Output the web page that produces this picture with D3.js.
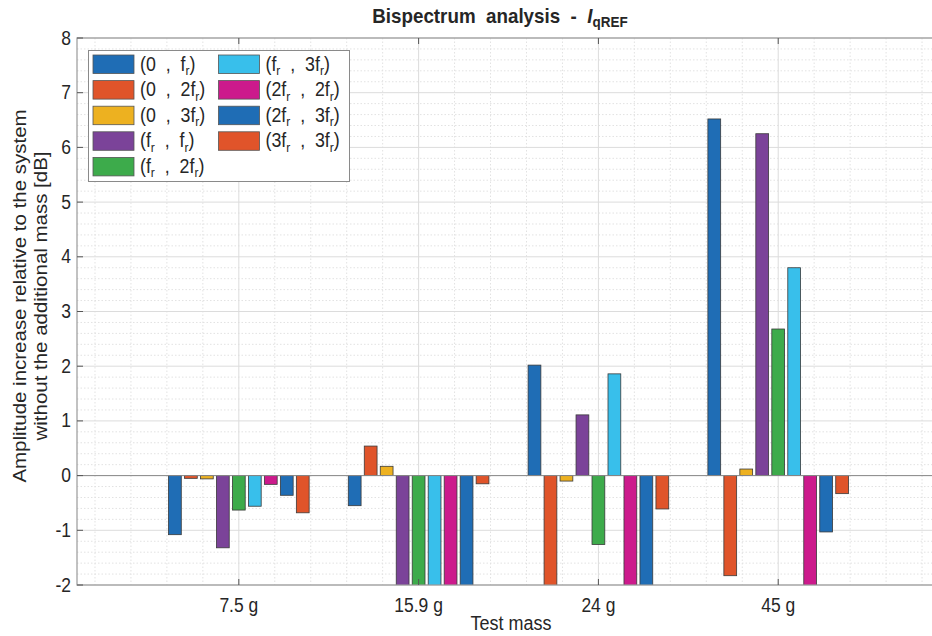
<!DOCTYPE html>
<html>
<head>
<meta charset="utf-8">
<script src="https://cdn.jsdelivr.net/npm/d3@7"></script>
<style>
  body { margin: 0; background: #fff; }
  text { font-family: Arial, "Liberation Sans", Helvetica, sans-serif; fill: #262626; }
</style>
</head>
<body>
<script>
// data
const masses = ["7.5 g", "15.9 g", "24 g", "45 g"];
const pairs = ["(0  ,  f_r)", "(0  ,  2f_r)", "(0  ,  3f_r)", "(f_r  ,  f_r)", "(f_r  ,  2f_r)",
               "(f_r  ,  3f_r)", "(2f_r  ,  2f_r)", "(2f_r  ,  3f_r)", "(3f_r  ,  3f_r)"];
const colors = ["#1f6db5", "#e0542a", "#edb120", "#7b4399", "#3dab4b", "#38bfeb", "#cc1a8c", "#1f6db5", "#e0542a"];
// one array per test mass, in the order of pairs
const vals_7_5 = [-1.08, -0.05, -0.06, -1.32, -0.63, -0.56, -0.16, -0.36, -0.68];
const vals_15_9 = [-0.55, 0.54, 0.17, -2.6, -2.6, -2.6, -2.6, -2.6, -0.15];
const vals_24 = [2.02, -2.6, -0.10, 1.11, -1.26, 1.86, -2.6, -2.6, -0.61];
const vals_45 = [6.52, -1.83, 0.12, 6.25, 2.68, 3.80, -2.6, -1.03, -0.33];
const groups = [vals_7_5, vals_15_9, vals_24, vals_45];
const yTicks = [-2, -1, 0, 1, 2, 3, 4, 5, 6, 7, 8];

const W = 932, H = 636;
const mLeft = 77, mTop = 38, mBottom = 585, mRight = 958;
const SY = 1.12; // text looks a bit stretched vertically in the picture

const svg = d3.select("body").append("svg").attr("width", W).attr("height", H);

const x = d3.scaleLinear().domain([0.1, 5]).range([mLeft, mRight]);
const y = d3.scaleLinear().domain([-2, 8]).range([mBottom, mTop]);

// helper: horizontal text placed at (px, py) with vertical stretch
function label(sel, px, py) {
  return sel.append("text").attr("transform", `translate(${px},${py}) scale(1,${SY})`);
}

const plot = svg.append("g");
svg.append("defs").append("clipPath").attr("id", "clip")
  .append("rect").attr("x", mLeft).attr("y", mTop).attr("width", mRight - mLeft).attr("height", mBottom - mTop);

// minor grid
const minorY = d3.range(-2, 8.001, 0.2).filter(v => Math.abs(v - Math.round(v)) > 1e-6);
plot.selectAll(".my").data(minorY).enter().append("line")
  .attr("x1", mLeft).attr("x2", mRight).attr("y1", d => y(d)).attr("y2", d => y(d))
  .attr("stroke", "#e2e2e2").attr("stroke-dasharray", "1.5,2");
const minorX = d3.range(0.2, 5, 0.2).filter(v => Math.abs(v - Math.round(v)) > 1e-6);
plot.selectAll(".mx").data(minorX).enter().append("line")
  .attr("y1", mTop).attr("y2", mBottom).attr("x1", d => x(d)).attr("x2", d => x(d))
  .attr("stroke", "#e2e2e2").attr("stroke-dasharray", "1.5,2");

// major grid
plot.selectAll(".gy").data(yTicks).enter().append("line")
  .attr("x1", mLeft).attr("x2", mRight).attr("y1", d => y(d)).attr("y2", d => y(d))
  .attr("stroke", "#dcdcdc");
plot.selectAll(".gx").data(masses).enter().append("line")
  .attr("y1", mTop).attr("y2", mBottom).attr("x1", (d, i) => x(i + 1)).attr("x2", (d, i) => x(i + 1))
  .attr("stroke", "#dcdcdc");

// bars
const slot = 0.8 / pairs.length;
const bars = svg.append("g").attr("clip-path", "url(#clip)");
groups.forEach((vals, g) => {
  bars.selectAll(".b" + g).data(vals).enter().append("rect")
    .attr("x", (d, i) => x(g + 1 + (i - 4) * slot - slot * 0.4))
    .attr("width", x(slot * 0.8) - x(0))
    .attr("y", d => y(Math.max(0, d)))
    .attr("height", d => Math.abs(y(d) - y(0)))
    .attr("fill", (d, i) => colors[i])
    .attr("stroke", "#3a3a3a").attr("stroke-width", 0.8);
});

// baseline
svg.append("line").attr("x1", mLeft).attr("x2", mRight).attr("y1", y(0)).attr("y2", y(0))
  .attr("stroke", "#8a8a8a").attr("stroke-width", 1);

// axes box
svg.append("rect").attr("x", mLeft).attr("y", mTop).attr("width", mRight - mLeft).attr("height", mBottom - mTop)
  .attr("fill", "none").attr("stroke", "#9a9a9a").attr("stroke-width", 1.2);

// ticks
svg.selectAll(".yt").data(yTicks).enter().append("line")
  .attr("x1", mLeft).attr("x2", mLeft + 6).attr("y1", d => y(d)).attr("y2", d => y(d))
  .attr("stroke", "#555");
svg.selectAll(".xt").data(masses).enter().append("line")
  .attr("y1", mBottom).attr("y2", mBottom - 6).attr("x1", (d, i) => x(i + 1)).attr("x2", (d, i) => x(i + 1))
  .attr("stroke", "#555");
svg.selectAll(".xt2").data(masses).enter().append("line")
  .attr("y1", mTop).attr("y2", mTop + 6).attr("x1", (d, i) => x(i + 1)).attr("x2", (d, i) => x(i + 1))
  .attr("stroke", "#555");

yTicks.forEach(v => {
  label(svg, mLeft - 6, y(v) + 6.5).attr("text-anchor", "end").attr("font-size", 17.5).text(v);
});
masses.forEach((m, i) => {
  label(svg, x(i + 1), mBottom + 27).attr("text-anchor", "middle").attr("font-size", 17.5).text(m);
});

// axis labels
label(svg, 511, 630).attr("text-anchor", "middle").attr("font-size", 18).text("Test mass");
const yl = svg.append("text")
  .attr("transform", `translate(26,296) rotate(-90) scale(${SY},1)`)
  .attr("text-anchor", "middle").attr("font-size", 18.3);
yl.append("tspan").attr("x", 0).attr("dy", 0).text("Amplitude increase relative to the system");
yl.append("tspan").attr("x", 0).attr("dy", 21.5).text("without the additional mass [dB]");

// title
const t = label(svg, 500, 23).attr("text-anchor", "middle")
  .attr("font-size", 18.8).attr("font-weight", "bold").style("white-space", "pre");
t.append("tspan").text("Bispectrum  analysis  -  ");
t.append("tspan").attr("font-style", "italic").text("I");
t.append("tspan").attr("font-size", 13.5).attr("dy", 4).text("qREF");

// legend
const lg = svg.append("g");
lg.append("rect").attr("x", 88.5).attr("y", 50.5).attr("width", 261).attr("height", 131)
  .attr("fill", "#fff").attr("stroke", "#8a8a8a");
pairs.forEach((p, i) => {
  const col = i < 5 ? 0 : 1, row = i < 5 ? i : i - 5;
  const lx = col === 0 ? 93 : 218.5, ly = 55 + row * 25.6;
  lg.append("rect").attr("x", lx).attr("y", ly).attr("width", 41).attr("height", 18.5)
    .attr("fill", colors[i]).attr("stroke", "#555").attr("stroke-width", 0.8);
  const txt = label(lg, lx + 47, ly + 15.5).attr("font-size", 17.8).style("white-space", "pre");
  const parts = p.split("_r");
  parts.forEach((s, k) => {
    txt.append("tspan").attr("dy", k === 0 ? 0 : -4).text(s);
    if (k < parts.length - 1) txt.append("tspan").attr("font-size", 12).attr("dy", 4).text("r");
  });
});
</script>
</body>
</html>
